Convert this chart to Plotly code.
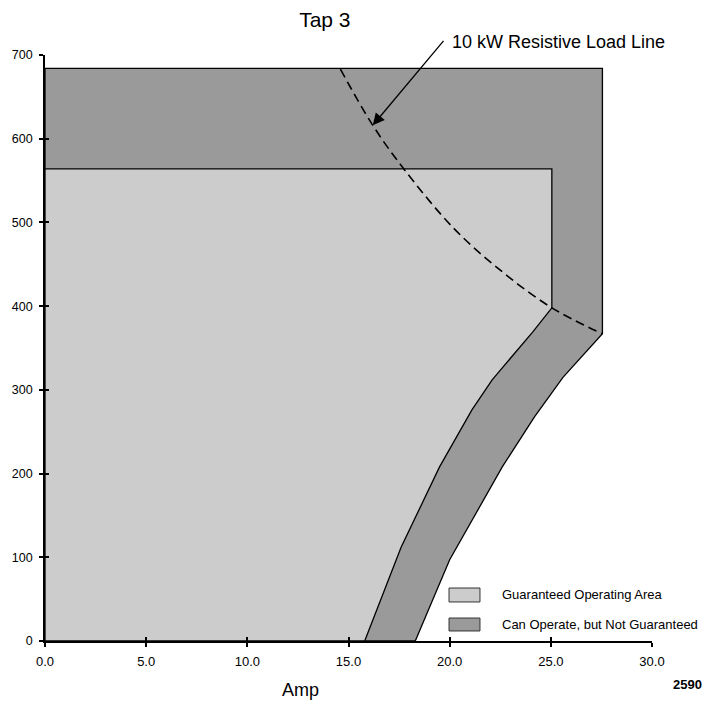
import plotly.graph_objects as go

# ---- data ----
outer_top = 684
outer_right = 27.55
outer_curve_x = [27.55, 25.6, 24.2, 22.6, 20.0, 18.3]
outer_curve_y = [367, 315, 268, 208, 97, 0]

inner_top = 564
inner_right = 25.05
inner_curve_x = [25.05, 24.1, 22.1, 21.1, 19.5, 17.6, 15.8]
inner_curve_y = [398, 369, 312, 276, 208, 112, 0]

load_x = [14.6, 16.2, 17.7, 20.2, 22.6, 25.05, 27.55]
load_y = [683, 616, 565, 493, 441, 398, 367]

x_ticks = [0, 5, 10, 15, 20, 25, 30]
y_ticks = [0, 100, 200, 300, 400, 500, 600, 700]

legend_labels = ["Guaranteed Operating Area", "Can Operate, but Not Guaranteed"]

LIGHT = "#cccccc"
DARK = "#9a9a9a"
FONT = "Liberation Sans, Arial, sans-serif"

fig = go.Figure()

# dark (can operate) region
dx = [0, 0, outer_right] + outer_curve_x + [0]
dy = [0, outer_top, outer_top] + outer_curve_y + [0]
fig.add_trace(go.Scatter(x=dx, y=dy, mode="lines", fill="toself", fillcolor=DARK,
                         line=dict(color="black", width=1.3), hoverinfo="skip", showlegend=False))

# light (guaranteed) region
lx = [0, 0, inner_right] + inner_curve_x + [0]
ly = [0, inner_top, inner_top] + inner_curve_y + [0]
fig.add_trace(go.Scatter(x=lx, y=ly, mode="lines", fill="toself", fillcolor=LIGHT,
                         line=dict(color="black", width=1.3), hoverinfo="skip", showlegend=False))

# load line
fig.add_trace(go.Scatter(x=load_x, y=load_y, mode="lines",
                         line=dict(color="black", width=1.6, dash="9px,5px", shape="spline"),
                         hoverinfo="skip", showlegend=False))

# invisible trace for overlay axes (inside ticks)
fig.add_trace(go.Scatter(x=[0], y=[0], xaxis="x2", yaxis="y2", mode="markers",
                         marker=dict(opacity=0), hoverinfo="skip", showlegend=False))

axis_common = dict(showgrid=False, zeroline=False, showline=True, linecolor="black",
                   linewidth=1.8, ticks="outside", ticklen=4, tickwidth=1.5, tickcolor="black")

fig.update_layout(
    width=711, height=706,
    margin=dict(l=45, r=59, t=55, b=65),
    plot_bgcolor="white", paper_bgcolor="white",
    font=dict(family=FONT, color="black"),
    title=dict(text="Tap 3", x=0.461, xref="paper", xanchor="center",
               y=1 - 20 / 706, yref="container", yanchor="middle",
               font=dict(family=FONT, size=21, color="black")),
    xaxis=dict(range=[0, 30], tickvals=x_ticks, tickformat=".1f", ticklabelstandoff=3,
               tickfont=dict(family=FONT, size=13, color="black"), **axis_common),
    yaxis=dict(range=[0, 700], tickvals=y_ticks, ticklabelstandoff=4,
               tickfont=dict(family=FONT, size=12.5, color="black"), **axis_common),
    xaxis2=dict(range=[0, 30], overlaying="x", anchor="y", side="bottom", tickvals=x_ticks,
                showticklabels=False, showgrid=False, zeroline=False, showline=False,
                ticks="inside", ticklen=4, tickwidth=1.5, tickcolor="black"),
    yaxis2=dict(range=[0, 700], overlaying="y", anchor="x", side="left", tickvals=y_ticks,
                showticklabels=False, showgrid=False, zeroline=False, showline=False,
                ticks="inside", ticklen=4, tickwidth=1.5, tickcolor="black"),
)

annotations = [
    dict(text="Amp", x=0.4217, y=-0.0836, xref="paper", yref="paper", showarrow=False,
         xanchor="center", yanchor="middle", font=dict(family=FONT, size=18)),
    dict(text="<b>2590</b>", x=1.059, y=-0.0734, xref="paper", yref="paper", showarrow=False,
         xanchor="center", yanchor="middle", font=dict(family=FONT, size=13)),
    dict(text="10 kW Resistive Load Line", x=0.6672, y=1.0222, xref="paper", yref="paper",
         showarrow=False, xanchor="left", yanchor="middle", font=dict(family=FONT, size=18)),
    dict(text="", x=16.2, y=616, xref="x", yref="y", ax=72, ay=-86, showarrow=True,
         arrowhead=2, arrowsize=1.8, arrowwidth=1.3, arrowcolor="black"),
]
legend_y = [(0.0904, 0.0666), (0.0392, 0.0171)]
legend_colors = [LIGHT, DARK]
shapes = []
for (y1, y0), col, lab in zip(legend_y, legend_colors, legend_labels):
    shapes.append(dict(type="rect", xref="paper", yref="paper", x0=0.6656, x1=0.7166,
                       y0=y0, y1=y1, fillcolor=col, line=dict(color="#333333", width=1)))
    annotations.append(dict(text=lab, x=0.7496, y=(y0 + y1) / 2, xref="paper", yref="paper",
                            showarrow=False, xanchor="left", yanchor="middle",
                            font=dict(family=FONT, size=13)))

fig.update_layout(annotations=annotations, shapes=shapes)
fig.write_html("out.html")
